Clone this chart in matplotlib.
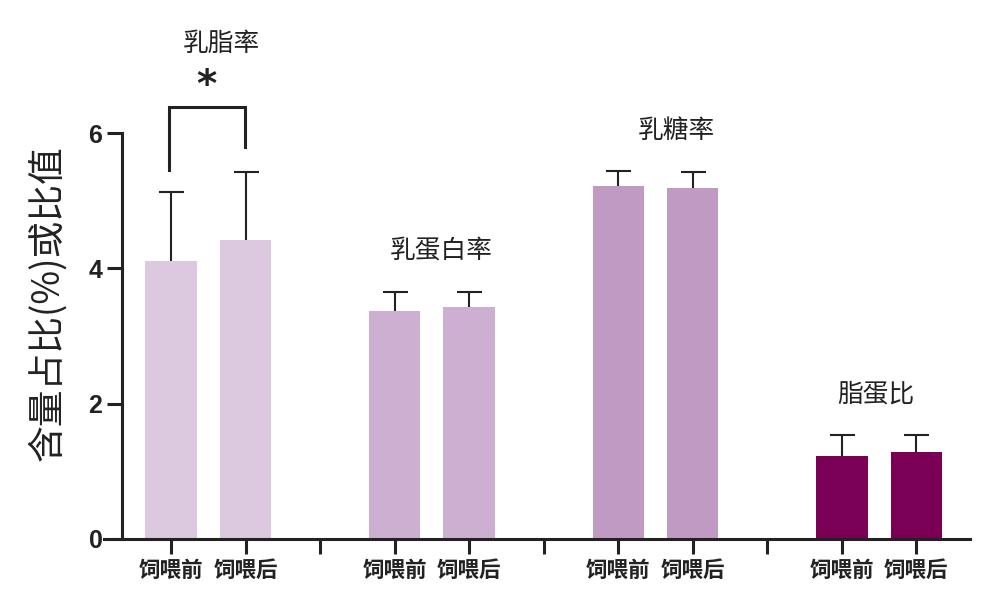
import matplotlib.pyplot as plt
import numpy as np

plt.rcParams['font.family'] = ['Noto Sans CJK SC', 'DejaVu Sans']

groups = ['乳脂率', '乳蛋白率', '乳糖率', '脂蛋比']
conditions = ['饲喂前', '饲喂后']
means = [4.11, 4.42, 3.37, 3.43, 5.21, 5.18, 1.23, 1.29]
errs = [1.02, 1.00, 0.28, 0.22, 0.23, 0.24, 0.31, 0.25]
colors = ['#dcc8df', '#dcc8df', '#cdb0d1', '#cdb0d1',
          '#c09ac3', '#c09ac3', '#7b0055', '#7b0055']
# label anchor (x, y) in data units for each group title
group_label_pos = [(0.68, 7.31), (3.62, 4.27), (6.78, 6.03), (9.46, 2.13)]

# bars sit at 0,1 | 3,4 | 6,7 | 9,10 ; separators at 2,5,8
xpos = [0, 1, 3, 4, 6, 7, 9, 10]
tick_pos = list(range(11))

fig = plt.figure(figsize=(9.95, 5.97), dpi=100)
ax = fig.add_axes([104 / 995, 58 / 597, 866 / 995, 406 / 597])

ax.bar(xpos, means, width=0.69, color=colors, zorder=2)
eb = ax.errorbar(xpos, means, yerr=[np.zeros(len(errs)), errs], fmt='none',
                 ecolor='#222222', elinewidth=1.5, capsize=9, capthick=1.5,
                 clip_on=False, zorder=1)
# only the upper cap is shown
eb[1][0].set_visible(False)

ax.set_xlim(-0.9, 10.72)
ax.set_ylim(0, 6)
ax.set_yticks([0, 2, 4, 6])
ax.set_xticks(tick_pos)
xlabels = []
for i in tick_pos:
    if i in xpos:
        xlabels.append(conditions[xpos.index(i) % 2])
    else:
        xlabels.append('')
ax.set_xticklabels(xlabels)

for s in ['top', 'right']:
    ax.spines[s].set_visible(False)
ax.spines['left'].set_position(('data', -0.66))
for s in ['left', 'bottom']:
    ax.spines[s].set_linewidth(2.2)
    ax.spines[s].set_color('#222222')
ax.tick_params(axis='both', length=11, width=2.2, color='#222222')
ax.tick_params(axis='x', pad=4, labelsize=15.5, labelcolor='#222222')
ax.tick_params(axis='y', pad=3, labelsize=18, labelcolor='#222222')
for t in ax.get_yticklabels():
    t.set_family('Liberation Sans')
    t.set_fontweight('bold')
for t in ax.get_xticklabels():
    t.set_fontweight('bold')

ax.set_ylabel('含量占比(%)或比值', fontsize=26.5, color='#222222')
ax.yaxis.set_label_coords(-0.043, 0.58)

for g, (lx, ly) in zip(groups, group_label_pos):
    ax.text(lx, ly, g, ha='center', va='center', fontsize=18.5,
            color='#222222', clip_on=False)

# significance bracket between 饲喂前 and 饲喂后 of 乳脂率
ax.plot([-0.03, -0.03, 0.99, 0.99], [5.45, 6.38, 6.38, 5.79],
        color='#222222', lw=2.2, clip_on=False, solid_joinstyle='miter')
ax.text(0.48, 6.70, '*', ha='center', va='center', fontsize=28,
        fontweight='bold', family='DejaVu Sans', color='#222222', clip_on=False)

fig.savefig('out.png', dpi=100, facecolor='white')
